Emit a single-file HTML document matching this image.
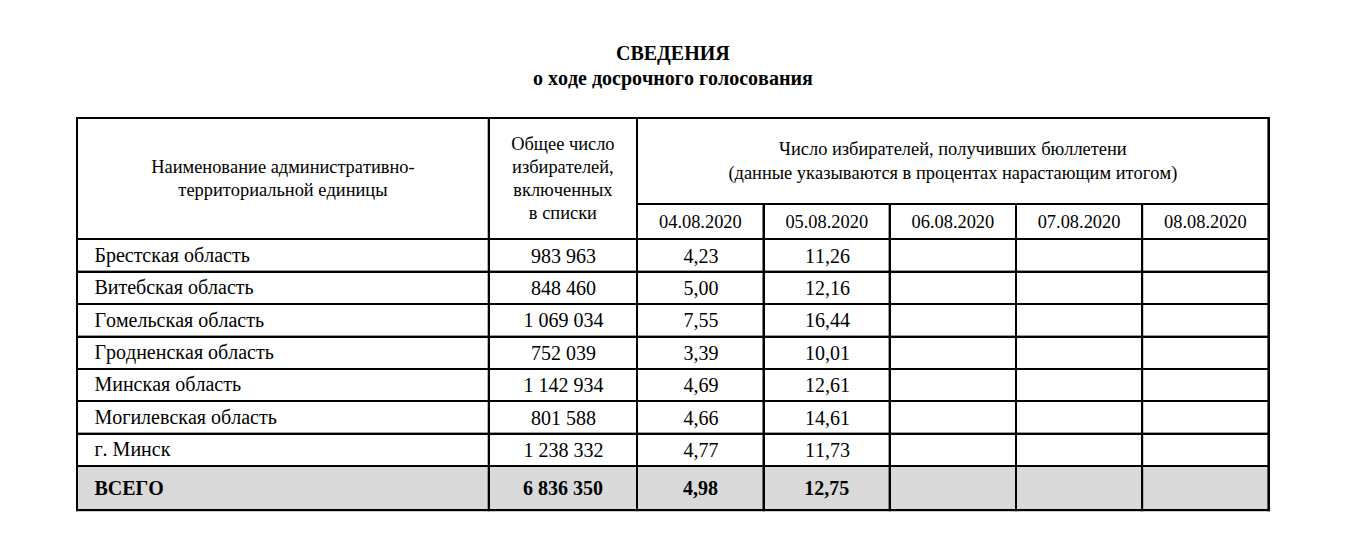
<!DOCTYPE html>
<html lang="ru"><head><meta charset="utf-8"><title>Сведения о ходе досрочного голосования</title>
<style>
html,body{margin:0;padding:0;background:#fff;}
body{width:1357px;height:539px;position:relative;overflow:hidden;font-family:"Liberation Serif",serif;color:#000;}
svg{position:absolute;left:0;top:0;}
.t{position:absolute;white-space:nowrap;line-height:1;font-kerning:none;}
.c{text-align:center;}
.h{font-size:18.40px;}
.b{font-size:20.00px;}
.ti{font-size:20.00px;font-weight:bold;}
.bd{font-weight:bold;}
</style></head><body>
<svg width="1357" height="539" viewBox="0 0 1357 539">
<rect x="76.00" y="467.00" width="1194.00" height="42.50" fill="#d9d9d9"/>
<g fill="#000">
<rect x="76.00" y="117.00" width="1194.00" height="2.00"/>
<rect x="636.00" y="203.00" width="634.00" height="2.00"/>
<rect x="76.00" y="238.00" width="1194.00" height="2.00"/>
<rect x="76.00" y="270.60" width="1194.00" height="2.40"/>
<rect x="76.00" y="303.00" width="1194.00" height="2.00"/>
<rect x="76.00" y="335.60" width="1194.00" height="2.40"/>
<rect x="76.00" y="368.00" width="1194.00" height="2.00"/>
<rect x="76.00" y="400.00" width="1194.00" height="2.00"/>
<rect x="76.00" y="432.60" width="1194.00" height="2.40"/>
<rect x="76.00" y="465.00" width="1194.00" height="2.00"/>
<rect x="76.00" y="509.00" width="1194.00" height="2.20"/>
<rect x="76.00" y="117.00" width="2.00" height="394.20"/>
<rect x="487.70" y="117.00" width="2.30" height="394.20"/>
<rect x="636.00" y="117.00" width="2.00" height="394.20"/>
<rect x="762.50" y="203.00" width="2.50" height="308.20"/>
<rect x="888.60" y="203.00" width="2.40" height="308.20"/>
<rect x="1015.00" y="203.00" width="2.00" height="308.20"/>
<rect x="1141.00" y="203.00" width="2.20" height="308.20"/>
<rect x="1267.40" y="117.00" width="2.60" height="394.20"/>
</g></svg>
<div class="t c ti" style="left:372.85px;top:43px;width:600px;">СВЕДЕНИЯ</div>
<div class="t c ti" style="left:372.85px;top:68px;width:600px;">о ходе досрочного голосования</div>
<div class="t c h" style="left:-17.07px;top:158px;width:600px;">Наименование административно-</div>
<div class="t c h" style="left:-17.07px;top:181px;width:600px;">территориальной единицы</div>
<div class="t c h" style="left:412.92px;top:135px;width:300px;">Общее число</div>
<div class="t c h" style="left:412.92px;top:158px;width:300px;">избирателей,</div>
<div class="t c h" style="left:412.92px;top:181px;width:300px;">включенных</div>
<div class="t c h" style="left:412.92px;top:204px;width:300px;">в списки</div>
<div class="t c h" style="left:652.85px;top:140px;width:600px;">Число избирателей, получивших бюллетени</div>
<div class="t c h" style="left:652.85px;top:164px;width:600px;">(данные указываются в процентах нарастающим итогом)</div>
<div class="t c h" style="left:600.38px;top:213px;width:200px;">04.08.2020</div>
<div class="t c h" style="left:726.77px;top:213px;width:200px;">05.08.2020</div>
<div class="t c h" style="left:852.90px;top:213px;width:200px;">06.08.2020</div>
<div class="t c h" style="left:979.05px;top:213px;width:200px;">07.08.2020</div>
<div class="t c h" style="left:1105.40px;top:213px;width:200px;">08.08.2020</div>
<div class="t b" style="left:94.40px;top:245px;">Брестская область</div>
<div class="t c b" style="left:413.52px;top:246px;width:300px;">983 963</div>
<div class="t c b" style="left:600.98px;top:246px;width:200px;">4,23</div>
<div class="t c b" style="left:727.38px;top:246px;width:200px;">11,26</div>
<div class="t b" style="left:94.40px;top:277px;">Витебская область</div>
<div class="t c b" style="left:413.52px;top:278px;width:300px;">848 460</div>
<div class="t c b" style="left:600.98px;top:278px;width:200px;">5,00</div>
<div class="t c b" style="left:727.38px;top:278px;width:200px;">12,16</div>
<div class="t b" style="left:94.40px;top:310px;">Гомельская область</div>
<div class="t c b" style="left:413.52px;top:310px;width:300px;">1 069 034</div>
<div class="t c b" style="left:600.98px;top:310px;width:200px;">7,55</div>
<div class="t c b" style="left:727.38px;top:310px;width:200px;">16,44</div>
<div class="t b" style="left:94.40px;top:342px;">Гродненская область</div>
<div class="t c b" style="left:413.52px;top:343px;width:300px;">752 039</div>
<div class="t c b" style="left:600.98px;top:343px;width:200px;">3,39</div>
<div class="t c b" style="left:727.38px;top:343px;width:200px;">10,01</div>
<div class="t b" style="left:94.40px;top:374px;">Минская область</div>
<div class="t c b" style="left:413.52px;top:375px;width:300px;">1 142 934</div>
<div class="t c b" style="left:600.98px;top:375px;width:200px;">4,69</div>
<div class="t c b" style="left:727.38px;top:375px;width:200px;">12,61</div>
<div class="t b" style="left:94.40px;top:407px;">Могилевская область</div>
<div class="t c b" style="left:413.52px;top:408px;width:300px;">801 588</div>
<div class="t c b" style="left:600.98px;top:408px;width:200px;">4,66</div>
<div class="t c b" style="left:727.38px;top:408px;width:200px;">14,61</div>
<div class="t b" style="left:94.40px;top:439px;">г. Минск</div>
<div class="t c b" style="left:413.52px;top:440px;width:300px;">1 238 332</div>
<div class="t c b" style="left:600.98px;top:440px;width:200px;">4,77</div>
<div class="t c b" style="left:727.38px;top:440px;width:200px;">11,73</div>
<div class="t b bd" style="left:94.40px;top:478px;">ВСЕГО</div>
<div class="t c b bd" style="left:412.92px;top:478px;width:300px;">6 836 350</div>
<div class="t c b bd" style="left:600.38px;top:478px;width:200px;">4,98</div>
<div class="t c b bd" style="left:726.77px;top:478px;width:200px;">12,75</div>
</body></html>
